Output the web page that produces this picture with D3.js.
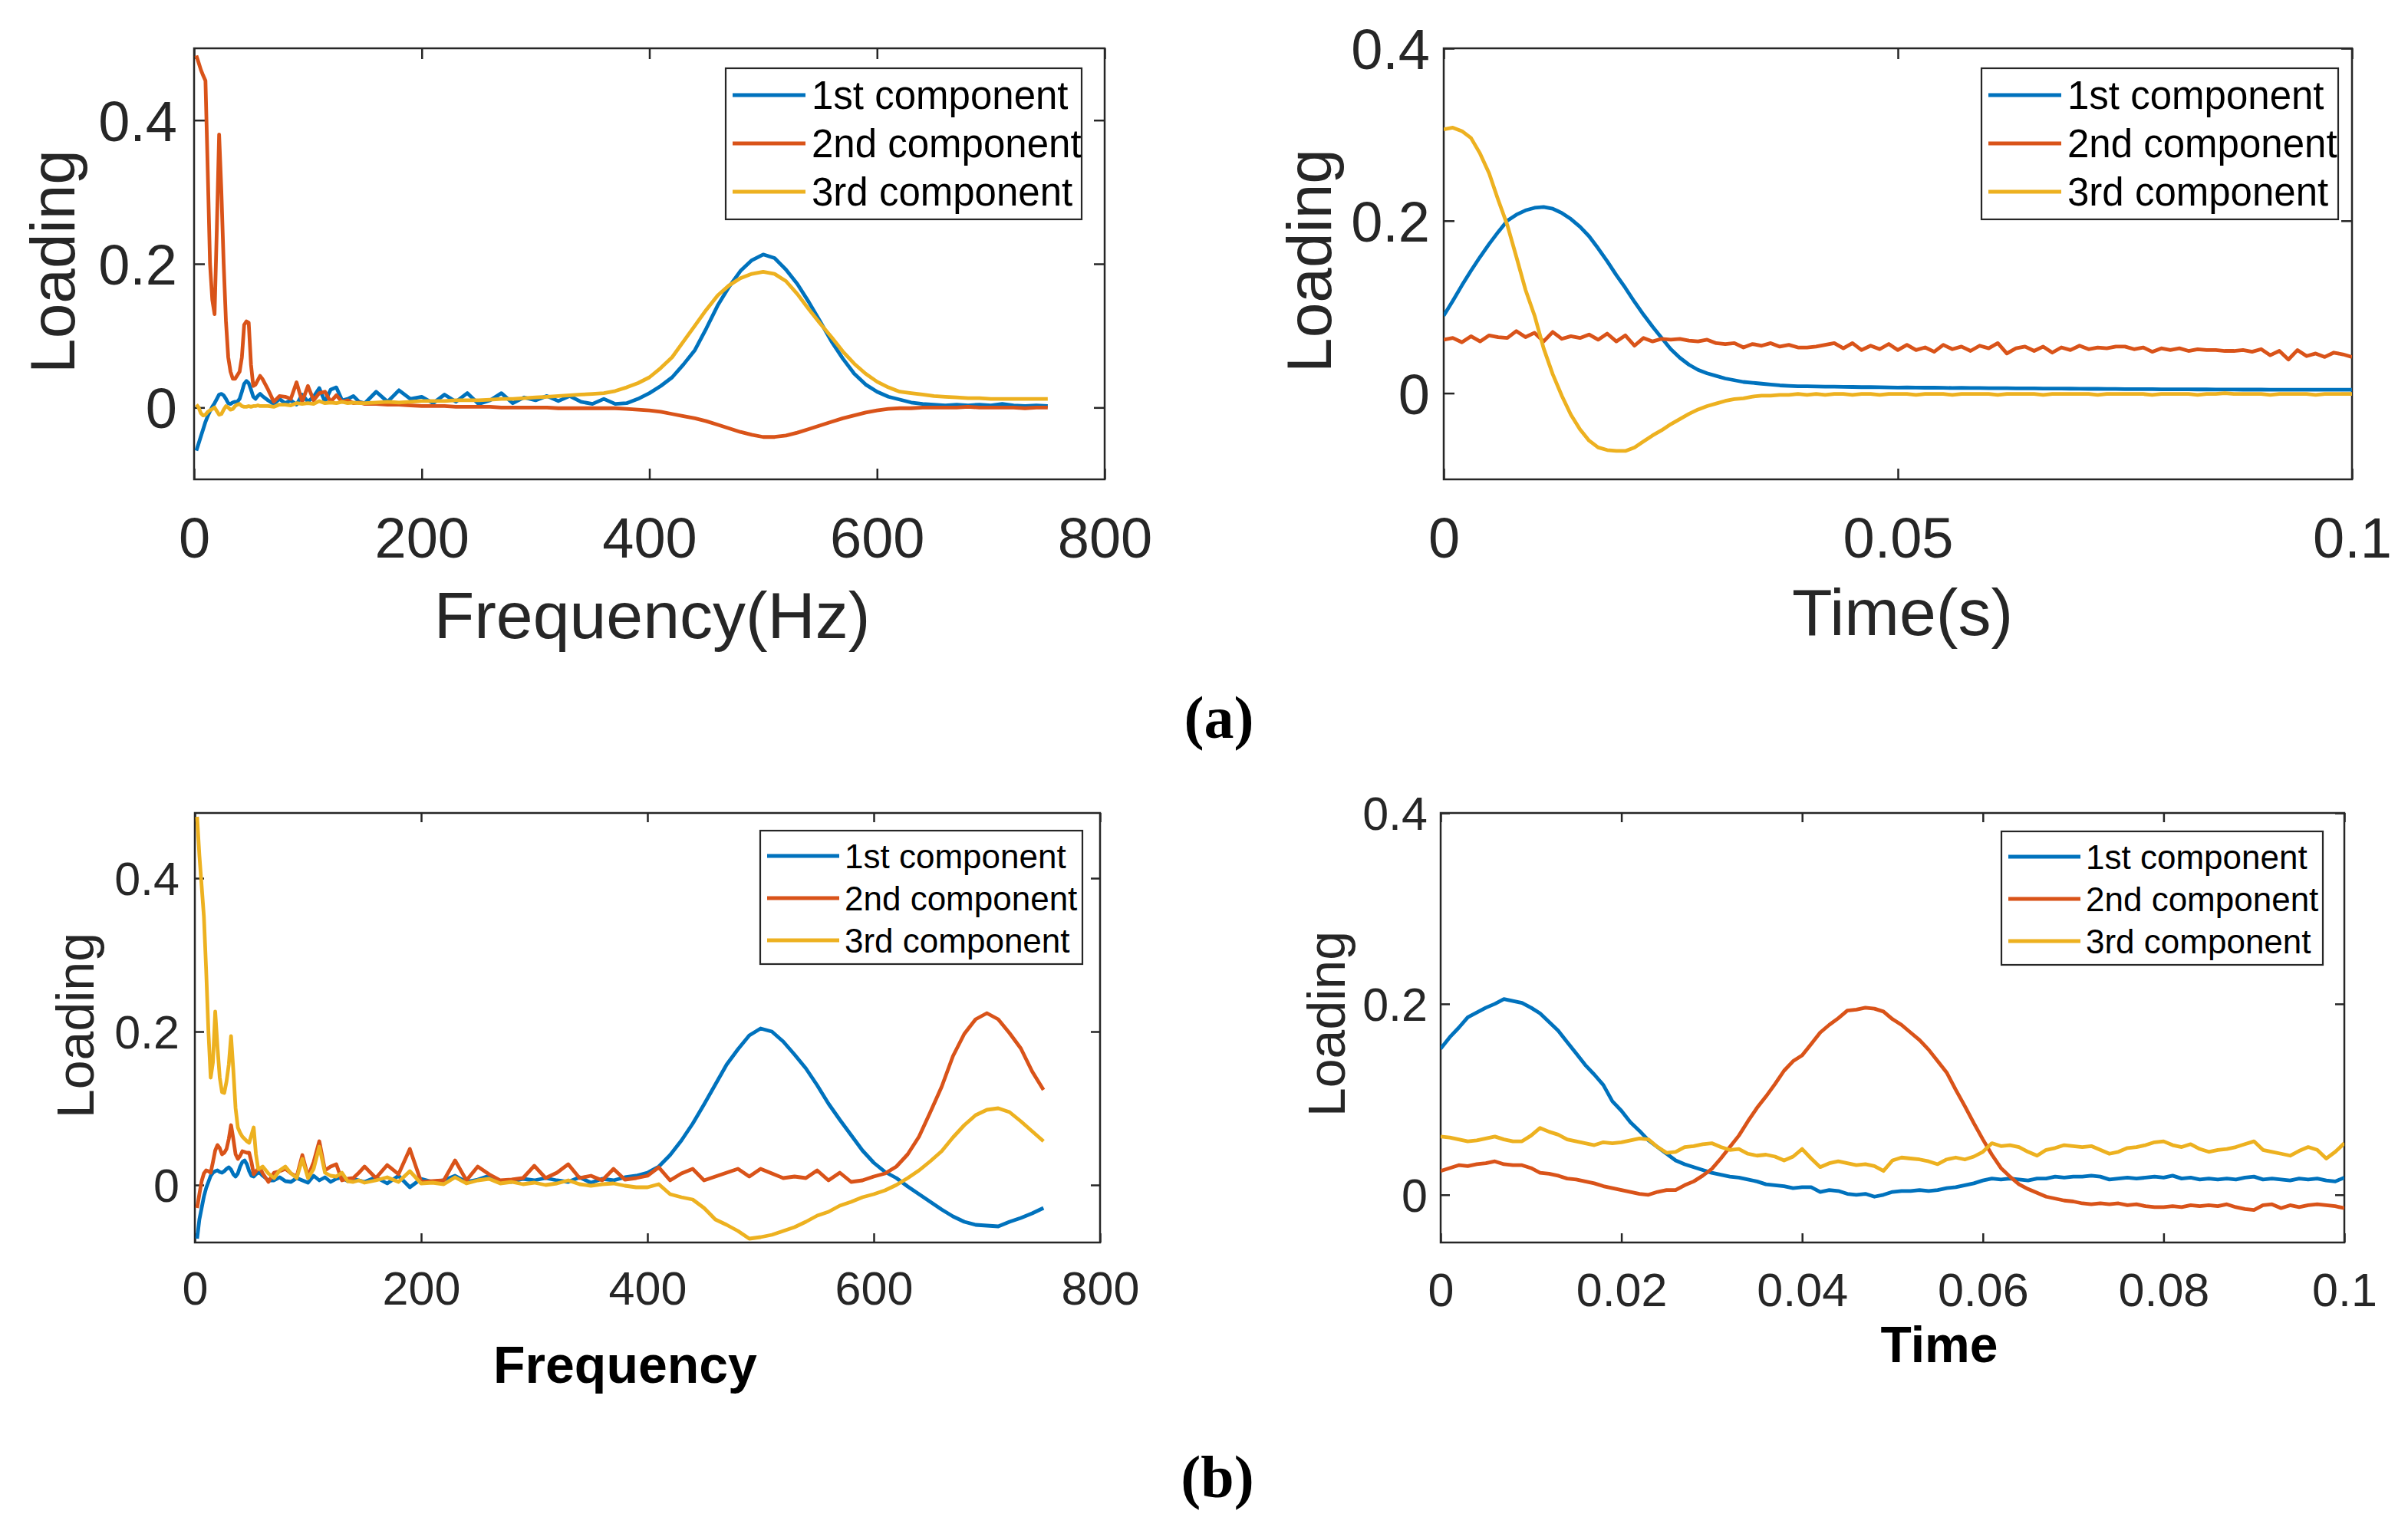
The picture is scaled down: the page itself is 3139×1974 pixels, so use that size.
<!DOCTYPE html>
<html><head><meta charset="utf-8">
<script src="https://cdn.jsdelivr.net/npm/d3@7"></script>
<style>body{margin:0;background:#fff}svg{display:block}</style>
</head><body><svg id="chart" width="3139" height="1974"></svg>
<script>
// ---------- DATA ----------
const seriesNames = ["1st component", "2nd component", "3rd component"];
// frequency sampling grid (Hz)
const freqGrid = [2,4,6,8,10,12,14,16,18,20,22,24,26,28,30,32,34,36,38,40,42,44,46,48,50,52,54,56,58,60,
  65,70,75,80,85,90,95,100,105,110,115,120,125,130,135,140,145,150,
  160,170,180,190,200,210,220,230,240,250,260,270,280,290,300,310,320,330,340,350,
  360,370,380,390,400,410,420,430,440,450,460,470,480,490,500,510,520,530,540,550,
  560,570,580,590,600,610,620,630,640,650,660,670,680,690,700,710,720,730,740,750];
// time sampling grid (s), 1 ms step from 0 to 0.1 s
const timeGrid = d3.range(101).map(i => i / 1000);

// (a) frequency loadings
const a1First = [-0.06,-0.05,-0.04,-0.03,-0.02,-0.012,-0.005,0.001,0.006,0.012,0.018,0.019,0.017,0.012,0.006,0.005,0.007,0.008,0.008,0.012,0.022,0.033,0.037,0.034,0.025,0.015,0.012,0.016,0.019,0.016,
  0.01,0.005,0.012,0.006,0.01,0.004,0.018,0.008,0.015,0.027,0.008,0.025,0.028,0.01,0.012,0.016,0.008,0.006,
  0.022,0.008,0.024,0.012,0.015,0.006,0.018,0.008,0.02,0.005,
  0.01,0.02,0.006,0.014,0.01,0.016,0.009,0.016,0.008,0.005,
  0.012,0.005,0.006,0.012,0.02,0.03,0.042,0.06,0.08,0.11,
  0.142,0.168,0.19,0.205,0.213,0.208,0.192,0.172,0.147,0.12,
  0.092,0.068,0.047,0.032,0.022,0.015,0.011,0.007,0.005,0.004,
  0.003,0.004,0.003,0.004,0.003,0.005,0.003,0.002,0.003,0.002];
const a1Second = [0.49,0.48,0.47,0.462,0.455,0.33,0.2,0.15,0.13,0.25,0.38,0.3,0.2,0.12,0.07,0.05,0.04,0.04,0.045,0.05,0.07,0.115,0.12,0.118,0.06,0.03,0.032,0.038,0.044,0.04,
  0.025,0.008,0.016,0.015,0.012,0.035,0.008,0.03,0.01,0.02,0.022,0.008,0.017,0.008,0.01,0.006,0.007,0.005,
  0.005,0.004,0.004,0.003,0.002,0.002,0.002,0.001,0.001,0.001,
  0.001,0,0,0,0,0,-0.001,-0.001,-0.001,-0.001,
  -0.001,-0.001,-0.002,-0.003,-0.004,-0.006,-0.009,-0.012,-0.015,-0.019,
  -0.024,-0.029,-0.034,-0.038,-0.041,-0.041,-0.039,-0.035,-0.03,-0.025,
  -0.02,-0.015,-0.011,-0.007,-0.004,-0.002,-0.001,-0.001,0,0,
  0,0,0.001,0,0,0,0,-0.001,0,0];
const a1Third = [0.004,0,-0.008,-0.011,-0.01,-0.006,-0.004,-0.002,0,-0.005,-0.01,-0.009,-0.003,0.002,0,-0.003,-0.002,0.002,0.004,0.005,0.002,0.001,0.001,0.002,0.001,0.002,0.002,0.003,0.002,0.002,
  0.002,0.001,0.004,0.004,0.003,0.006,0.005,0.006,0.005,0.009,0.006,0.007,0.006,0.008,0.006,0.007,0.006,0.006,
  0.007,0.008,0.007,0.008,0.009,0.009,0.009,0.01,0.01,0.01,
  0.011,0.012,0.012,0.013,0.014,0.015,0.016,0.017,0.018,0.019,
  0.02,0.023,0.028,0.034,0.042,0.055,0.07,0.092,0.114,0.136,
  0.156,0.17,0.18,0.186,0.189,0.186,0.176,0.158,0.137,0.117,
  0.098,0.078,0.061,0.047,0.036,0.028,0.022,0.02,0.018,0.016,
  0.015,0.014,0.013,0.013,0.012,0.012,0.012,0.012,0.012,0.012];

// (a) time loadings
const a2First = [0.090,0.107,0.125,0.142,0.158,0.173,0.187,0.200,0.207,0.212,
  0.215,0.216,0.214,0.209,0.202,0.193,0.182,0.168,0.153,0.137,
  0.122,0.106,0.091,0.077,0.064,0.051,0.041,0.033,0.027,0.023,
  0.020,0.017,0.015,0.013,0.012,0.011,0.010,0.009,0.0085,0.008,
  0.008,0.0078,0.0076,0.0075,0.0074,0.0072,0.007,0.0071,0.0068,0.0066,
  0.0065,0.0066,0.0064,0.0063,0.0064,0.0062,0.006,0.0061,0.006,0.0059,
  0.0058,0.0058,0.0057,0.0056,0.0056,0.0055,0.0054,0.0053,0.0054,0.0052,
  0.0051,0.005,0.0051,0.0049,0.0048,0.0047,0.0047,0.0046,0.0046,0.0045,
  0.0045,0.0044,0.0044,0.0043,0.0043,0.0042,0.0042,0.0042,0.0041,0.0041,
  0.0041,0.004,0.004,0.004,0.004,0.004,0.004,0.004,0.004,0.004,0.004];
const a2Second = [0.062,0.064,0.059,0.066,0.060,0.067,0.065,0.064,0.072,0.065,
  0.070,0.060,0.071,0.063,0.066,0.064,0.068,0.062,0.069,0.060,
  0.067,0.055,0.064,0.060,0.063,0.062,0.063,0.061,0.060,0.062,
  0.058,0.057,0.058,0.053,0.057,0.055,0.058,0.054,0.056,0.053,
  0.053,0.054,0.056,0.058,0.052,0.058,0.050,0.055,0.051,0.057,
  0.050,0.056,0.050,0.053,0.048,0.056,0.051,0.054,0.049,0.055,
  0.052,0.058,0.046,0.052,0.054,0.049,0.054,0.047,0.053,0.050,
  0.055,0.051,0.053,0.052,0.054,0.054,0.051,0.053,0.048,0.052,
  0.050,0.052,0.049,0.051,0.050,0.050,0.049,0.049,0.050,0.048,
  0.051,0.044,0.049,0.039,0.050,0.043,0.046,0.042,0.047,0.045,0.042];
const a2Third = [0.306,0.308,0.304,0.296,0.278,0.255,0.224,0.195,0.158,0.12,
  0.09,0.052,0.022,-0.003,-0.025,-0.042,-0.055,-0.063,-0.066,-0.067,
  -0.067,-0.063,-0.056,-0.049,-0.043,-0.036,-0.03,-0.024,-0.019,-0.015,
  -0.012,-0.009,-0.007,-0.006,-0.004,-0.003,-0.003,-0.002,-0.002,-0.001,
  -0.002,-0.001,-0.002,-0.001,-0.001,-0.002,-0.001,-0.001,-0.002,-0.001,
  -0.001,-0.001,-0.002,-0.001,-0.001,-0.001,-0.002,-0.001,-0.001,-0.001,
  -0.001,-0.002,-0.001,-0.001,-0.001,-0.001,-0.002,-0.001,-0.001,-0.001,
  -0.001,-0.001,-0.002,-0.001,-0.001,-0.001,-0.001,-0.001,-0.002,-0.001,
  -0.001,-0.001,-0.001,-0.002,-0.001,-0.001,0,-0.001,-0.001,-0.001,
  -0.001,-0.002,-0.001,-0.001,-0.001,-0.001,-0.002,-0.001,-0.001,-0.001,-0.001];

// (b) frequency loadings
const b1First = [-0.07,-0.045,-0.03,-0.015,-0.004,0.004,0.012,0.016,0.018,0.019,0.017,0.016,0.018,0.021,0.023,0.02,0.014,0.011,0.015,0.024,0.03,0.032,0.027,0.018,0.012,0.011,0.014,0.016,0.015,0.012,
  0.006,0.006,0.01,0.005,0.004,0.009,0.006,0.003,0.012,0.006,0.01,0.004,0.008,0.01,0.005,0.008,0.006,0.004,
  0.01,0.002,0.012,-0.003,0.008,0.004,0.006,0.012,0.004,0.007,
  0.012,0.005,0.004,0.008,0.006,0.009,0.006,0.004,0.01,0.003,
  0.008,0.006,0.01,0.012,0.016,0.024,0.039,0.058,0.08,0.105,
  0.131,0.157,0.177,0.195,0.204,0.2,0.187,0.17,0.152,0.13,
  0.106,0.085,0.065,0.045,0.029,0.017,0.009,-0.002,-0.012,-0.022,
  -0.032,-0.041,-0.048,-0.052,-0.053,-0.054,-0.048,-0.043,-0.037,-0.03];
const b1Second = [-0.03,-0.012,0.005,0.015,0.019,0.018,0.016,0.03,0.045,0.052,0.048,0.04,0.042,0.047,0.06,0.078,0.06,0.04,0.034,0.038,0.044,0.043,0.042,0.042,0.03,0.014,0.018,0.021,0.021,0.015,
  0.004,0.016,0.018,0.021,0.015,0.011,0.039,0.011,0.03,0.057,0.019,0.024,0.027,0.006,0.008,0.009,0.016,0.024,
  0.009,0.026,0.014,0.047,0.004,0.005,0.006,0.032,0.006,0.024,
  0.014,0.006,0.007,0.009,0.025,0.009,0.016,0.027,0.009,0.012,
  0.006,0.021,0.007,0.009,0.012,0.023,0.006,0.015,0.021,0.006,
  0.011,0.016,0.021,0.011,0.021,0.015,0.009,0.011,0.009,0.019,
  0.006,0.016,0.004,0.006,0.011,0.015,0.024,0.04,0.063,0.095,
  0.128,0.168,0.197,0.216,0.224,0.216,0.198,0.178,0.148,0.124];
const b1Third = [0.48,0.43,0.39,0.35,0.28,0.2,0.14,0.16,0.226,0.18,0.14,0.121,0.12,0.135,0.157,0.194,0.15,0.1,0.075,0.068,0.063,0.06,0.057,0.055,0.065,0.075,0.04,0.021,0.022,0.024,
  0.015,0.009,0.019,0.024,0.015,0.009,0.034,0.009,0.021,0.05,0.016,0.012,0.011,0.016,0.005,0.004,0.006,0.003,
  0.006,0.01,0.004,0.018,0.002,0.003,0.001,0.01,0.002,0.006,
  0.008,0.002,0.004,0.001,0.003,0,0.002,0.006,0.001,-0.001,
  0.001,0.002,-0.001,-0.003,-0.003,0.001,-0.012,-0.016,-0.019,-0.03,
  -0.045,-0.052,-0.06,-0.07,-0.068,-0.065,-0.06,-0.055,-0.048,-0.04,
  -0.035,-0.027,-0.022,-0.016,-0.012,-0.007,0,0.009,0.019,0.031,
  0.044,0.062,0.078,0.091,0.098,0.1,0.095,0.083,0.07,0.057];

// (b) time loadings
const b2First = [0.153,0.165,0.175,0.186,0.191,0.196,0.200,0.205,0.203,0.201,
  0.196,0.19,0.181,0.172,0.16,0.148,0.136,0.126,0.115,0.098,
  0.088,0.076,0.067,0.057,0.05,0.043,0.036,0.032,0.029,0.026,
  0.023,0.021,0.019,0.018,0.016,0.014,0.011,0.01,0.009,0.007,
  0.008,0.008,0.003,0.005,0.004,0.001,0.0,0.001,-0.002,0.0,
  0.003,0.004,0.004,0.005,0.004,0.005,0.007,0.008,0.01,0.012,
  0.015,0.017,0.016,0.017,0.016,0.015,0.017,0.017,0.019,0.018,
  0.019,0.019,0.02,0.019,0.016,0.017,0.018,0.017,0.018,0.019,
  0.018,0.02,0.017,0.018,0.016,0.017,0.016,0.017,0.016,0.018,
  0.019,0.016,0.017,0.016,0.015,0.017,0.016,0.017,0.015,0.014,0.018];
const b2Second = [0.025,0.028,0.031,0.03,0.032,0.033,0.035,0.032,0.031,0.031,
  0.028,0.023,0.022,0.02,0.017,0.016,0.014,0.012,0.009,0.007,
  0.005,0.003,0.001,0.0,0.003,0.005,0.005,0.01,0.014,0.02,
  0.027,0.038,0.05,0.062,0.077,0.091,0.103,0.116,0.13,0.14,
  0.146,0.158,0.17,0.178,0.185,0.193,0.194,0.196,0.195,0.192,
  0.184,0.178,0.17,0.162,0.152,0.14,0.128,0.11,0.093,0.075,
  0.058,0.042,0.028,0.019,0.011,0.006,0.002,-0.002,-0.004,-0.006,
  -0.007,-0.009,-0.010,-0.009,-0.010,-0.009,-0.011,-0.010,-0.012,-0.013,
  -0.013,-0.012,-0.013,-0.011,-0.012,-0.011,-0.012,-0.010,-0.013,-0.015,
  -0.016,-0.011,-0.01,-0.014,-0.011,-0.013,-0.011,-0.01,-0.011,-0.012,-0.014];
const b2Third = [0.061,0.06,0.058,0.056,0.057,0.059,0.061,0.058,0.056,0.056,
  0.062,0.07,0.066,0.063,0.058,0.056,0.054,0.052,0.055,0.054,
  0.055,0.057,0.059,0.058,0.05,0.044,0.045,0.05,0.051,0.053,
  0.054,0.05,0.047,0.048,0.043,0.041,0.042,0.04,0.036,0.04,
  0.048,0.038,0.029,0.033,0.035,0.033,0.031,0.032,0.03,0.025,
  0.036,0.039,0.038,0.037,0.035,0.032,0.037,0.039,0.037,0.04,
  0.045,0.054,0.051,0.052,0.05,0.045,0.041,0.047,0.049,0.052,
  0.051,0.05,0.051,0.047,0.043,0.045,0.049,0.05,0.052,0.055,
  0.056,0.052,0.05,0.053,0.048,0.045,0.047,0.048,0.05,0.053,
  0.056,0.047,0.045,0.043,0.041,0.046,0.05,0.047,0.038,0.045,0.054];

const freqTicks = [0, 200, 400, 600, 800];
const timeTicksA = [0, 0.05, 0.1];
const timeTicksB = [0, 0.02, 0.04, 0.06, 0.08, 0.1];
const loadingTicks = [0, 0.2, 0.4];

// ---------- DRAWING ----------
const COL = ["#0072BD", "#D95319", "#EDB120"];
const AX = "#262626";
const SANS = "'Liberation Sans', Arial, Helvetica, sans-serif";
const svg = d3.select("#chart");
const fmt = d => (d === 0 ? "0" : String(+d.toFixed(4)));

function panel(p, idx) {
  const g = svg.append("g");
  const x = d3.scaleLinear().domain(p.xDomain).range([p.box[0], p.box[2]]);
  const y = d3.scaleLinear().domain(p.yDomain).range([p.box[3], p.box[1]]);
  const W = p.box[2] - p.box[0], H = p.box[3] - p.box[1];

  g.append("rect").attr("x", p.box[0]).attr("y", p.box[1]).attr("width", W).attr("height", H).attr("fill", "#fff");

  const clipId = "clip" + idx;
  svg.append("clipPath").attr("id", clipId).append("rect")
    .attr("x", p.box[0]).attr("y", p.box[1]).attr("width", W).attr("height", H);

  // axes with inward ticks on all four sides
  const tl = p.tickLen;
  const bottom = g.append("g").attr("transform", `translate(0,${p.box[3]})`)
    .call(d3.axisBottom(x).tickValues(p.xTicks).tickSize(-tl).tickPadding(p.xPad).tickFormat(fmt));
  const top = g.append("g").attr("transform", `translate(0,${p.box[1]})`)
    .call(d3.axisTop(x).tickValues(p.xTicks).tickSize(-tl).tickFormat(""));
  const left = g.append("g").attr("transform", `translate(${p.box[0]},0)`)
    .call(d3.axisLeft(y).tickValues(p.yTicks).tickSize(-tl).tickPadding(p.yPad).tickFormat(fmt));
  const right = g.append("g").attr("transform", `translate(${p.box[2]},0)`)
    .call(d3.axisRight(y).tickValues(p.yTicks).tickSize(-tl).tickFormat(""));
  [bottom, top, left, right].forEach(a => {
    a.select(".domain").remove();
    a.selectAll(".tick line").attr("stroke", AX).attr("stroke-width", 2.5);
    a.selectAll("text").attr("font-family", SANS).attr("font-size", p.tickFont).attr("fill", AX);
  });
  bottom.selectAll(".tick text").attr("dy", null).attr("y", p.xPad);
  left.selectAll(".tick text").attr("dy", "0.36em");

  // box
  g.append("rect").attr("x", p.box[0]).attr("y", p.box[1]).attr("width", W).attr("height", H)
    .attr("fill", "none").attr("stroke", AX).attr("stroke-width", 2.5);

  // lines
  const line = d3.line().x(d => x(d[0])).y(d => y(d[1]));
  const lines = g.append("g").attr("clip-path", `url(#${clipId})`);
  p.series.forEach((s, i) => {
    const pts = p.xs.map((xv, k) => [xv, s[k]]);
    lines.append("path").attr("d", line(pts)).attr("fill", "none")
      .attr("stroke", COL[i]).attr("stroke-width", p.lineW).attr("stroke-linejoin", "round");
  });

  // axis labels
  g.append("text").attr("x", p.xLabel.x).attr("y", p.xLabel.y).attr("text-anchor", "middle")
    .attr("font-family", SANS).attr("font-size", p.xLabel.size).attr("font-weight", p.xLabel.bold ? "bold" : "normal")
    .attr("fill", p.xLabel.bold ? "#000" : AX).text(p.xLabel.text);
  g.append("text").attr("transform", `translate(${p.yLabel.x},${p.yLabel.y}) rotate(-90)`)
    .attr("text-anchor", "middle").attr("font-family", SANS).attr("font-size", p.yLabel.size)
    .attr("fill", AX).text("Loading");

  // legend
  const L = p.legend;
  const lg = g.append("g");
  lg.append("rect").attr("x", L.x).attr("y", L.y).attr("width", L.w).attr("height", L.h)
    .attr("fill", "#fff").attr("stroke", AX).attr("stroke-width", 2.2);
  seriesNames.forEach((n, i) => {
    const ry = L.y + L.row0 + i * L.rowStep;
    lg.append("line").attr("x1", L.x + L.l0).attr("x2", L.x + L.l1).attr("y1", ry).attr("y2", ry)
      .attr("stroke", COL[i]).attr("stroke-width", p.lineW);
    lg.append("text").attr("x", L.x + L.tx).attr("y", ry).attr("dy", "0.36em")
      .attr("font-family", SANS).attr("font-size", L.font).attr("fill", "#000").text(n);
  });
}

const panels = [
  { box: [253, 63, 1440, 625], xDomain: [0, 800], yDomain: [-0.1, 0.5], xTicks: freqTicks, yTicks: loadingTicks,
    xs: freqGrid, series: [a1First, a1Second, a1Third], tickLen: 14, tickFont: 74, xPad: 102, yPad: 22, lineW: 4.8,
    xLabel: { text: "Frequency(Hz)", x: 850, y: 832, size: 86 }, yLabel: { x: 97, y: 341, size: 82 },
    legend: { x: 946, y: 89, w: 464, h: 197, row0: 35, rowStep: 63, l0: 9, l1: 104, tx: 112, font: 51 } },
  { box: [1882, 63, 3066, 625], xDomain: [0, 0.1], yDomain: [-0.1, 0.4], xTicks: timeTicksA, yTicks: loadingTicks,
    xs: timeGrid, series: [a2First, a2Second, a2Third], tickLen: 14, tickFont: 74, xPad: 102, yPad: 18, lineW: 4.8,
    xLabel: { text: "Time(s)", x: 2480, y: 828, size: 86 }, yLabel: { x: 1735, y: 340, size: 82 },
    legend: { x: 2583, y: 89, w: 465, h: 197, row0: 35, rowStep: 63, l0: 9, l1: 104, tx: 112, font: 51 } },
  { box: [254, 1060, 1434, 1620], xDomain: [0, 800], yDomain: [-0.075, 0.485], xTicks: freqTicks, yTicks: loadingTicks,
    xs: freqGrid, series: [b1First, b1Second, b1Third], tickLen: 12, tickFont: 61, xPad: 81, yPad: 20, lineW: 4.8,
    xLabel: { text: "Frequency", x: 815, y: 1803, size: 68, bold: true }, yLabel: { x: 122, y: 1337, size: 68 },
    legend: { x: 991, y: 1083, w: 420, h: 174, row0: 33, rowStep: 55, l0: 9, l1: 103, tx: 110, font: 44 } },
  { box: [1878, 1060, 3056, 1620], xDomain: [0, 0.1], yDomain: [-0.05, 0.4], xTicks: timeTicksB, yTicks: loadingTicks,
    xs: timeGrid, series: [b2First, b2Second, b2Third], tickLen: 12, tickFont: 61, xPad: 83, yPad: 17, lineW: 4.8,
    xLabel: { text: "Time", x: 2528, y: 1776, size: 66, bold: true }, yLabel: { x: 1753, y: 1335, size: 68 },
    legend: { x: 2609, y: 1084, w: 419, h: 174, row0: 33, rowStep: 55, l0: 9, l1: 103, tx: 110, font: 44 } }
];
panels.forEach(panel);

// sub-figure captions
const SERIF = "'Liberation Serif', 'Times New Roman', serif";
svg.append("text").attr("x", 1589).attr("y", 962).attr("text-anchor", "middle").attr("font-family", SERIF)
  .attr("font-weight", "bold").attr("font-size", 78).attr("fill", "#000").text("(a)");
svg.append("text").attr("x", 1587).attr("y", 1952).attr("text-anchor", "middle").attr("font-family", SERIF)
  .attr("font-weight", "bold").attr("font-size", 78).attr("fill", "#000").text("(b)");
</script>
</body></html>
